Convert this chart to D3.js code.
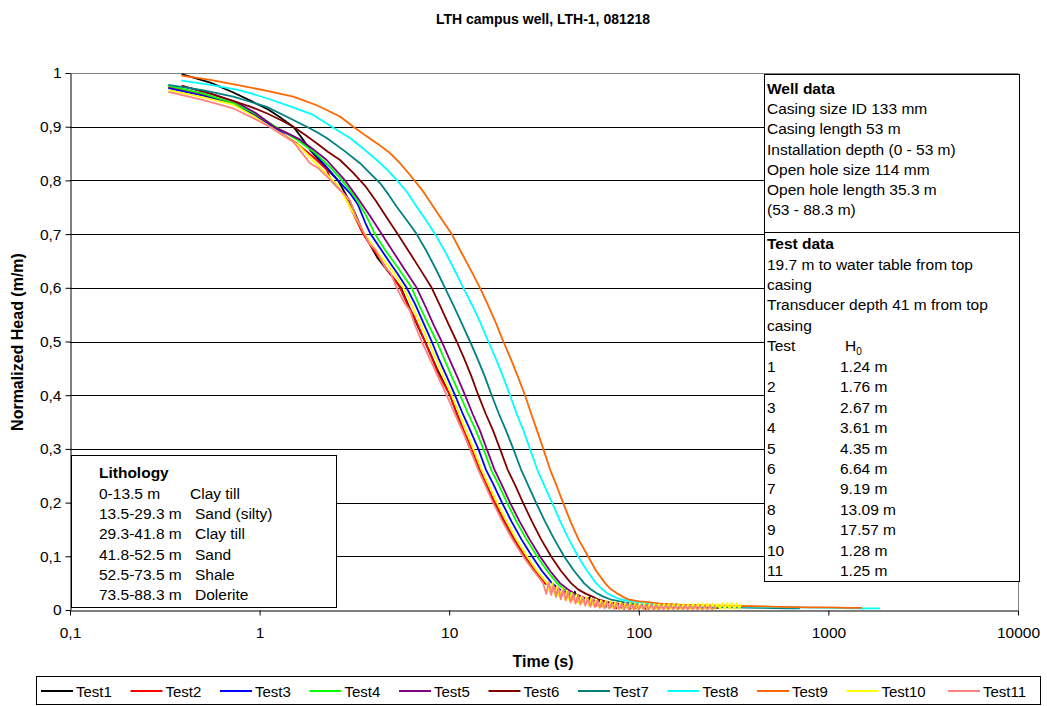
<!DOCTYPE html>
<html><head><meta charset="utf-8">
<script src="https://cdn.jsdelivr.net/npm/d3@7"></script>
<style>
body{margin:0;background:#fff}
svg{display:block}
text{font-family:"Liberation Sans",Arial,sans-serif;fill:#000}
</style>
</head><body>
<svg id="chart" width="1047" height="706"></svg>
<script>
// ---------- DATA (time in s, normalized head in m/m) ----------
const seriesNames = ["Test1","Test2","Test3","Test4","Test5","Test6","Test7","Test8","Test9","Test10","Test11"];
const seriesColors = ["#000000","#ff0000","#0000ff","#00ff00","#800080","#800000","#008080","#00ffff","#ff6600","#ffff00","#ff8080"];

const test1 = [[0.388,0.998],[0.55,0.982],[0.713,0.965],[0.9,0.948],[1.11,0.932],[1.3,0.916],[1.505,0.900],[1.68,0.878],[1.845,0.857],[2.2,0.826],[2.59,0.800],[3.0,0.760],[3.555,0.700],[4.2,0.655],[4.9,0.625],[5.57,0.600],[6.4,0.550],[7.45,0.500],[8.6,0.450],[10.1,0.400],[11.4,0.350],[12.88,0.300],[14.9,0.250],[17.23,0.200],[20.5,0.150],[24.8,0.100],[27.8,0.075],[31.7,0.050],[33,0.048],[34.2,0.036],[35.5,0.044],[36.8,0.032],[38,0.034],[39.5,0.028],[40.8,0.037],[42,0.026],[43.4,0.030],[44.8,0.022],[46,0.034],[47.5,0.020],[49,0.026],[50.5,0.016],[52,0.022],[53.6,0.014],[55,0.024],[56.6,0.012],[58,0.018],[60,0.010],[62,0.018],[64,0.008],[66,0.012],[68,0.006],[70,0.013]];
const test2 = [[0.33,0.974],[0.5,0.960],[0.727,0.944],[0.93,0.924],[1.163,0.900],[1.35,0.884],[1.569,0.869],[1.9,0.845],[2.258,0.820],[2.38,0.800],[2.764,0.776],[3.1,0.740],[3.512,0.700],[3.9,0.676],[4.3,0.655],[4.7,0.634],[5.1,0.618],[5.503,0.600],[6.0,0.570],[6.5,0.548],[7.0,0.522],[7.454,0.500],[8.1,0.470],[8.7,0.442],[9.3,0.423],[10.1,0.400],[10.9,0.368],[12.0,0.332],[13.15,0.300],[14.5,0.262],[15.9,0.230],[17.44,0.200],[19.6,0.165],[22.0,0.132],[25.1,0.100],[28.3,0.075],[32.0,0.050],[33.5,0.046],[35,0.036],[36.6,0.040],[38.4,0.029],[40,0.032],[41.5,0.023],[43,0.027],[44.4,0.019],[46,0.022],[48,0.015],[50,0.019],[52,0.012],[54,0.016],[56,0.010],[58,0.014],[60,0.008],[62.5,0.012],[65,0.006],[67.5,0.011],[70,0.004],[73,0.010],[76,0.003],[79,0.009],[82,0.003],[86,0.008],[90,0.002],[94,0.008],[99,0.002],[104,0.007],[109,0.002],[114,0.007],[120,0.002],[125,0.006],[130,0.002]];
const test3 = [[0.33,0.972],[0.5,0.958],[0.727,0.942],[0.93,0.922],[1.163,0.900],[1.35,0.889],[1.634,0.876],[1.95,0.850],[2.32,0.820],[2.592,0.800],[3.0,0.776],[3.3,0.755],[3.6,0.722],[3.85,0.700],[4.3,0.675],[4.8,0.650],[5.3,0.628],[5.97,0.600],[6.6,0.570],[7.3,0.535],[8.086,0.500],[8.8,0.468],[9.7,0.435],[10.73,0.400],[11.8,0.365],[12.9,0.335],[14.24,0.300],[15.6,0.262],[17.2,0.232],[18.99,0.200],[21.3,0.165],[24.0,0.132],[27.33,0.100],[30.8,0.073],[34.8,0.050],[38,0.039],[41.8,0.030],[45,0.025],[48.4,0.020],[53,0.016],[58,0.012],[64.7,0.010],[72,0.008],[80,0.006],[90,0.005],[101,0.004]];
const test4 = [[0.33,0.976],[0.5,0.962],[0.727,0.944],[0.93,0.926],[1.163,0.904],[1.35,0.890],[1.569,0.876],[1.95,0.852],[2.35,0.825],[2.72,0.800],[3.2,0.768],[3.6,0.738],[4.061,0.700],[4.6,0.670],[5.4,0.636],[6.344,0.600],[7.0,0.565],[7.8,0.530],[8.591,0.500],[9.4,0.468],[10.3,0.435],[11.4,0.400],[12.6,0.365],[13.8,0.335],[15.13,0.300],[16.6,0.262],[18.3,0.232],[20.17,0.200],[22.6,0.165],[25.5,0.132],[29.04,0.100],[32.8,0.073],[37.0,0.050],[40.5,0.038],[44.4,0.030],[48,0.025],[51.4,0.020],[56,0.016],[62,0.012],[68.8,0.010],[78,0.008],[90,0.006],[108,0.005]];
const test5 = [[0.388,0.976],[0.55,0.962],[0.75,0.946],[0.95,0.926],[1.191,0.900],[1.4,0.888],[1.634,0.876],[1.95,0.856],[2.258,0.838],[2.821,0.800],[3.252,0.770],[3.8,0.735],[4.406,0.700],[5.0,0.670],[5.8,0.635],[6.738,0.600],[7.5,0.565],[8.3,0.530],[9.13,0.500],[10.0,0.468],[11.0,0.435],[12.12,0.400],[13.3,0.365],[14.5,0.335],[15.77,0.300],[17.3,0.262],[19.0,0.232],[20.93,0.200],[23.5,0.165],[26.5,0.132],[30.11,0.100],[34,0.073],[38.4,0.050],[42,0.039],[46.1,0.030],[50,0.025],[53.3,0.020],[60,0.015],[72.2,0.010],[90,0.007],[114.6,0.005],[150,0.004],[186,0.004]];
const test6 = [[0.388,0.976],[0.5,0.966],[0.698,0.950],[0.9,0.937],[1.09,0.925],[1.3,0.912],[1.505,0.900],[1.75,0.884],[2.0,0.869],[2.3,0.853],[2.656,0.838],[3.1,0.815],[3.6,0.790],[4.1,0.762],[4.7,0.730],[5.4,0.698],[6.2,0.665],[7.1,0.632],[8.086,0.600],[9.0,0.565],[9.9,0.533],[10.95,0.500],[12.0,0.468],[13.1,0.435],[14.24,0.400],[15.6,0.365],[17.0,0.335],[18.53,0.300],[20.3,0.262],[22.3,0.232],[24.5,0.200],[27.3,0.165],[30.5,0.132],[34.43,0.100],[38.8,0.073],[43.9,0.050],[48,0.038],[52.7,0.030],[57,0.025],[60.9,0.020],[70,0.014],[84.5,0.010],[110,0.007],[146,0.005],[200,0.004],[268,0.004]];
const test7 = [[0.33,0.978],[0.5,0.968],[0.727,0.956],[0.9,0.946],[1.09,0.937],[1.4,0.918],[1.772,0.900],[2.0,0.890],[2.258,0.879],[2.8,0.855],[3.385,0.832],[3.85,0.812],[4.315,0.795],[4.8,0.773],[5.287,0.751],[6.0,0.725],[6.738,0.700],[7.6,0.668],[8.5,0.635],[9.501,0.600],[10.5,0.568],[11.6,0.535],[12.88,0.500],[14.1,0.468],[15.4,0.435],[16.75,0.400],[18.3,0.365],[19.9,0.335],[21.78,0.300],[23.9,0.262],[26.1,0.232],[28.7,0.200],[32.0,0.165],[35.8,0.132],[40.32,0.100],[45.5,0.073],[51.4,0.050],[56,0.038],[60.9,0.030],[65,0.025],[70.5,0.020],[84,0.014],[101,0.010],[140,0.007],[186,0.006],[300,0.005],[436,0.004],[600,0.003],[708,0.003]];
const test8 = [[0.388,0.986],[0.55,0.978],[0.757,0.969],[0.9,0.962],[1.09,0.953],[1.45,0.938],[1.92,0.922],[2.40,0.900],[3.0,0.879],[3.5,0.860],[4.146,0.838],[4.7,0.820],[5.287,0.801],[6.0,0.778],[6.738,0.751],[7.5,0.727],[8.417,0.700],[9.5,0.668],[10.6,0.635],[11.87,0.600],[13.2,0.568],[14.6,0.535],[16.08,0.500],[17.6,0.468],[19.2,0.435],[20.93,0.400],[22.7,0.365],[24.6,0.335],[26.68,0.300],[29.1,0.262],[31.7,0.232],[34.85,0.200],[38.5,0.165],[42.7,0.132],[47.78,0.100],[53.3,0.073],[59.5,0.050],[64,0.039],[68.8,0.030],[74,0.025],[79.6,0.020],[95,0.015],[114.6,0.012],[150,0.010],[210,0.008],[300,0.007],[436,0.006],[700,0.005],[1019,0.004],[1400,0.003],[1871,0.003]];
const test9 = [[0.388,0.995],[0.55,0.987],[0.757,0.978],[1.05,0.968],[1.505,0.956],[2.0,0.940],[2.656,0.919],[3.121,0.900],[3.672,0.882],[4.2,0.868],[4.873,0.851],[5.5,0.832],[6.214,0.810],[7.2,0.782],[8.245,0.751],[9.2,0.726],[10.31,0.700],[11.5,0.668],[13.0,0.633],[14.54,0.600],[16.0,0.568],[17.6,0.535],[19.29,0.500],[21.1,0.468],[23.0,0.435],[25.1,0.400],[27.1,0.365],[29.0,0.335],[31.35,0.300],[34.0,0.262],[36.8,0.232],[39.83,0.200],[43.6,0.165],[48.0,0.132],[53.97,0.100],[59.5,0.073],[66.4,0.050],[71,0.039],[77.7,0.030],[82,0.025],[87.7,0.020],[100,0.016],[109,0.015],[130,0.012],[165,0.010],[210,0.009],[268,0.008],[400,0.007],[556,0.006],[800,0.005],[1019,0.005],[1250,0.004],[1503,0.004]];
const test10 = [[0.33,0.968],[0.5,0.955],[0.727,0.941],[0.93,0.920],[1.135,0.900],[1.4,0.880],[1.634,0.863],[2.0,0.830],[2.438,0.800],[2.6,0.790],[3.0,0.750],[3.597,0.700],[4.0,0.676],[4.5,0.652],[5.1,0.628],[5.728,0.600],[6.3,0.570],[7.0,0.535],[7.76,0.500],[8.5,0.468],[9.3,0.435],[10.31,0.400],[11.3,0.365],[12.3,0.335],[13.4,0.300],[14.8,0.262],[16.2,0.232],[17.87,0.200],[20.1,0.165],[22.6,0.132],[25.72,0.100],[29.0,0.073],[32.8,0.050],[34,0.032],[35,0.050],[36,0.028],[37.1,0.044],[38.2,0.024],[39.4,0.040],[40.6,0.020],[41.8,0.036],[43,0.017],[44.3,0.032],[45.6,0.014],[47,0.029],[48.4,0.012],[49.9,0.026],[51.4,0.010],[52.9,0.024],[54.5,0.008],[56.1,0.022],[57.8,0.007],[59.5,0.020],[61.3,0.006],[63.2,0.018],[65.1,0.005],[67,0.017],[69,0.004],[71.1,0.016],[73.2,0.004],[75.4,0.015],[77.7,0.003],[80,0.014],[82.4,0.003],[84.9,0.013],[87.4,0.002],[90,0.013],[92.7,0.002],[95.5,0.012],[98.4,0.002],[101,0.012],[104,0.002],[107,0.012],[111,0.002],[114,0.011],[117,0.002],[121,0.011],[124,0.002],[128,0.011],[132,0.002],[136,0.011],[140,0.002],[144,0.011],[148,0.002],[153,0.011],[157,0.002],[162,0.011],[167,0.002],[172,0.011],[177,0.002],[182,0.011],[188,0.002],[193,0.011],[199,0.002],[205,0.012],[211,0.002],[218,0.012],[224,0.002],[231,0.012],[238,0.002],[245,0.012],[252,0.002],[260,0.012],[268,0.002],[276,0.013],[284,0.002],[293,0.013],[301,0.002],[310,0.013],[320,0.002],[329,0.013],[339,0.002],[346,0.011]];
const test11 = [[0.33,0.965],[0.5,0.950],[0.727,0.934],[0.9,0.918],[1.09,0.903],[1.3,0.886],[1.505,0.872],[1.7,0.848],[1.845,0.832],[2.05,0.822],[2.295,0.805],[2.6,0.786],[3.0,0.763],[3.2,0.735],[3.512,0.705],[3.8,0.682],[4.1,0.670],[4.6,0.638],[4.9,0.628],[5.287,0.600],[5.8,0.572],[6.2,0.558],[6.7,0.525],[7.161,0.500],[7.8,0.472],[8.3,0.452],[8.9,0.428],[9.7,0.400],[10.5,0.372],[11.2,0.350],[12.0,0.326],[12.88,0.300],[14.2,0.262],[15.5,0.232],[17.02,0.200],[19.1,0.165],[21.5,0.132],[24.5,0.100],[27.6,0.075],[31.3,0.050],[32.5,0.030],[33.5,0.052],[34.5,0.028],[35.5,0.046],[36.6,0.024],[37.7,0.042],[38.8,0.020],[40,0.038],[41.2,0.018],[42.4,0.034],[43.7,0.014],[45,0.030],[46.4,0.012],[47.8,0.027],[49.2,0.010],[50.7,0.024],[52.2,0.008],[53.8,0.022],[55.4,0.006],[57,0.020],[58.7,0.005],[60.5,0.018],[62.3,0.004],[64.2,0.016],[66.1,0.003],[68.1,0.015],[70.1,0.003],[72.2,0.014],[74.4,0.002],[76.6,0.013],[78.9,0.002],[81.3,0.012],[83.7,0.001],[86.2,0.012],[88.8,0.001],[91.5,0.011],[94.2,0.001],[97,0.011],[100,0.001],[103,0.010],[106,0.001],[109,0.010],[113,0.001],[116,0.010],[120,0.001],[123,0.009],[127,0.001],[131,0.009],[135,0.001],[139,0.009],[143,0.001],[147,0.009],[152,0.001],[156,0.008],[161,0.001],[166,0.008],[171,0.001],[176,0.008],[181,0.001],[187,0.008],[192,0.001],[198,0.008],[204,0.001],[210,0.007],[217,0.001],[223,0.007],[230,0.001],[237,0.007],[244,0.001],[251,0.006],[255,0.002]];
const allSeries = [test1,test2,test3,test4,test5,test6,test7,test8,test9,test10,test11];

const xTicks = [0.1,1,10,100,1000,10000];
const xTickLabels = ["0,1","1","10","100","1000","10000"];
const yTicks = [0,0.1,0.2,0.3,0.4,0.5,0.6,0.7,0.8,0.9,1];
const yTickLabels = ["0","0,1","0,2","0,3","0,4","0,5","0,6","0,7","0,8","0,9","1"];

const chartTitle = "LTH campus well, LTH-1, 081218";
const xTitle = "Time (s)";
const yTitle = "Normalized Head (m/m)";

const wellData = ["Casing size ID 133 mm","Casing length 53 m","Installation depth (0 - 53 m)","Open hole size 114 mm","Open hole length 35.3 m","(53 - 88.3 m)"];
const testInfo = ["19.7 m to water table from top","casing","Transducer depth 41 m from top","casing"];
const testNumbers = ["1","2","3","4","5","6","7","8","9","10","11"];
const testH0 = ["1.24 m","1.76 m","2.67 m","3.61 m","4.35 m","6.64 m","9.19 m","13.09 m","17.57 m","1.28 m","1.25 m"];
const lithoDepth = ["0-13.5 m","13.5-29.3 m","29.3-41.8 m","41.8-52.5 m","52.5-73.5 m","73.5-88.3 m"];
const lithoType = ["Clay till","Sand (silty)","Clay till","Sand","Shale","Dolerite"];

// ---------- LAYOUT ----------
const svg = d3.select("#chart");
const L = 70, R = 1018, T = 73, B = 610;
const x = d3.scaleLog().domain([0.1,10000]).range([L,R]);
const y = d3.scaleLinear().domain([0,1]).range([B,T]);

svg.append("rect").attr("width",1047).attr("height",706).attr("fill","#fff");

// title
svg.append("text").attr("x",543).attr("y",24).attr("text-anchor","middle")
  .style("font-weight","bold").style("font-size","14px").text(chartTitle);

// gridlines
svg.append("g").selectAll("line").data(yTicks.filter(d=>d>0)).join("line")
  .attr("x1",L).attr("x2",R).attr("y1",d=>Math.round(y(d))+0.5).attr("y2",d=>Math.round(y(d))+0.5)
  .attr("stroke","#000").attr("stroke-width",1);

// plot border (grey)
svg.append("path").attr("d",`M${L},${T+0.5}H${R+0.5}V${B}`).attr("fill","none").attr("stroke","#808080").attr("stroke-width",1);

// curves
const line = d3.line().x(d=>x(d[0])).y(d=>y(d[1]));
const plot = svg.append("g");
allSeries.forEach((s,i)=>{
  plot.append("path").datum(s).attr("d",line).attr("fill","none")
    .attr("stroke",seriesColors[i]).attr("stroke-width",1.8).attr("stroke-linejoin","round");
});

// axes
const yAxis = d3.axisLeft(y).tickValues(yTicks).tickFormat((d,i)=>yTickLabels[i]).tickSize(5).tickPadding(4).tickSizeOuter(0);
const gy = svg.append("g").attr("transform",`translate(${L+0.5},0)`).call(yAxis);
const xAxis = d3.axisBottom(x).tickValues(xTicks).tickFormat((d,i)=>xTickLabels[i]).tickSize(5).tickPadding(11).tickSizeOuter(0);
const gx = svg.append("g").attr("transform",`translate(0,${B+0.5})`).call(xAxis);
[gx,gy].forEach(g=>{
  g.selectAll("text").style("font-size","15.5px").style("font-family","'Liberation Sans',Arial,sans-serif").attr("fill","#000");
  g.selectAll("line,path").attr("stroke","#000");
});

// axis titles
svg.append("text").attr("x",543).attr("y",667).attr("text-anchor","middle")
  .style("font-weight","bold").style("font-size","16px").text(xTitle);
svg.append("text").attr("transform","translate(23,342) rotate(-90)").attr("text-anchor","middle")
  .style("font-weight","bold").style("font-size","16px").text(yTitle);

// ---------- TEXT BOXES ----------
const fs = "15.5px";
function box(x0,y0,w,h){
  svg.append("rect").attr("x",x0+0.5).attr("y",y0+0.5).attr("width",w).attr("height",h)
    .attr("fill","#fff").attr("stroke","#000").attr("stroke-width",1);
}
// Well data
box(764,74,255,158);
svg.append("text").attr("x",767).attr("y",94).style("font-size",fs).style("font-weight","bold").text("Well data");
wellData.forEach((t,i)=>svg.append("text").attr("x",767).attr("y",114.2+i*20.2).style("font-size",fs).text(t));

// Test data
box(764,232,255,349);
svg.append("text").attr("x",767).attr("y",249).style("font-size",fs).style("font-weight","bold").text("Test data");
testInfo.forEach((t,i)=>svg.append("text").attr("x",767).attr("y",269.5+i*20.45).style("font-size",fs).text(t));
const hdrY = 249+5*20.45;
svg.append("text").attr("x",767).attr("y",hdrY).style("font-size",fs).text("Test");
const h0 = svg.append("text").attr("x",845).attr("y",hdrY).style("font-size",fs);
h0.append("tspan").text("H");
h0.append("tspan").attr("dy",4).style("font-size","10px").text("0");
testNumbers.forEach((t,i)=>{
  const yy = hdrY+(i+1)*20.45;
  svg.append("text").attr("x",767).attr("y",yy).style("font-size",fs).text(t);
  svg.append("text").attr("x",840).attr("y",yy).style("font-size",fs).text(testH0[i]);
});

// Lithology
box(71,455,265,152);
svg.append("text").attr("x",99).attr("y",478).style("font-size",fs).style("font-weight","bold").text("Lithology");
lithoDepth.forEach((t,i)=>{
  const yy = 498.6+i*20.3;
  svg.append("text").attr("x",99).attr("y",yy).style("font-size",fs).text(t);
  svg.append("text").attr("x",i===0?190:195).attr("y",yy).style("font-size",fs).text(lithoType[i]);
});

// ---------- LEGEND ----------
svg.append("rect").attr("x",36.5).attr("y",676.5).attr("width",1004).attr("height",28)
  .attr("fill","#fff").attr("stroke","#000").attr("stroke-width",1);
const legX = [41,130.5,220,309.5,399,488.5,578,667.5,757,846.5,948];
seriesNames.forEach((n,i)=>{
  const lx = legX[i];
  svg.append("line").attr("x1",lx).attr("x2",lx+32).attr("y1",691).attr("y2",691)
    .attr("stroke",seriesColors[i]).attr("stroke-width",2);
  svg.append("text").attr("x",lx+35).attr("y",696.5).style("font-size","15px").text(n);
});
</script>
</body></html>
